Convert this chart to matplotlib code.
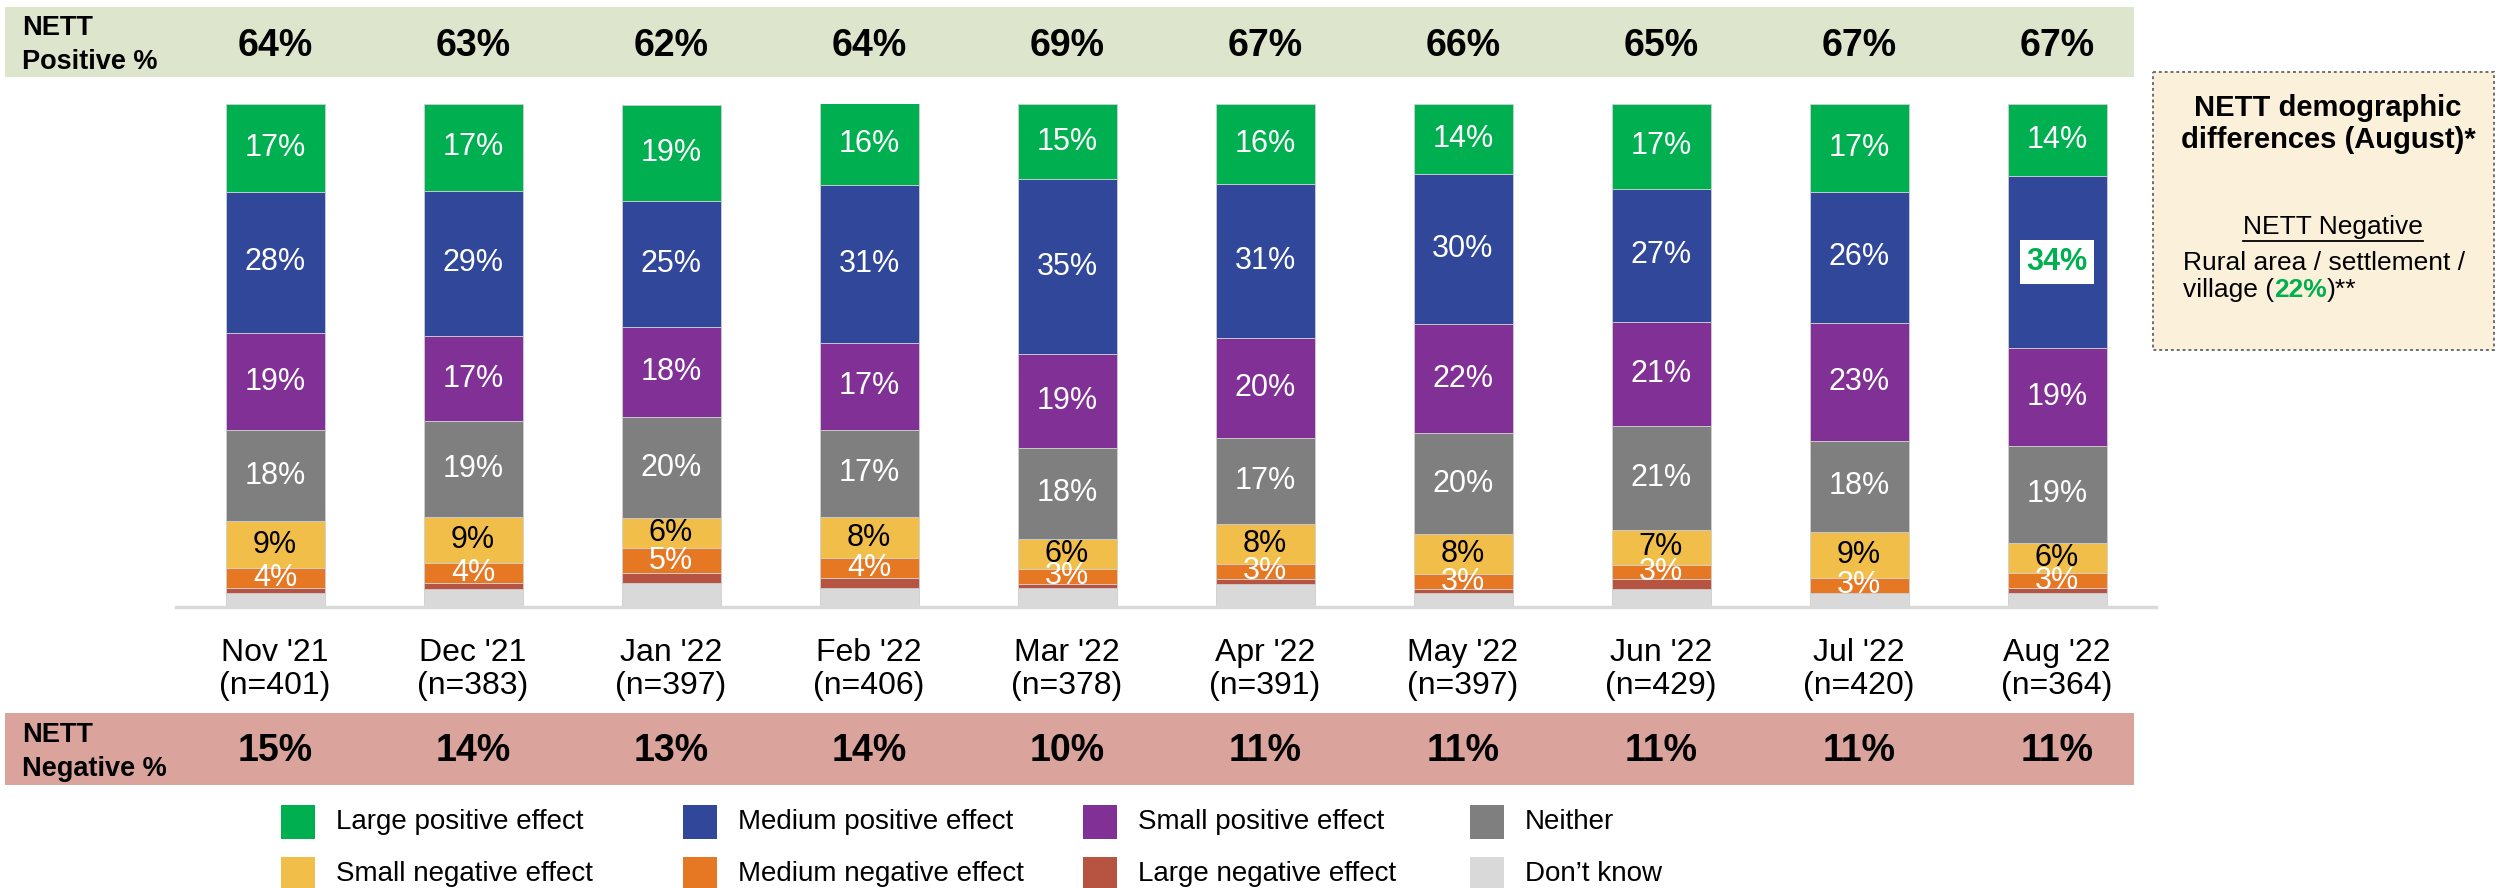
import matplotlib
matplotlib.use('Agg')
import matplotlib.pyplot as plt
import matplotlib.transforms as mtransforms
from matplotlib.patches import Rectangle

plt.rcParams['font.family'] = ['Liberation Sans', 'DejaVu Sans']

# ---------------- data ----------------
months = ["Nov '21", "Dec '21", "Jan '22", "Feb '22", "Mar '22", "Apr '22",
          "May '22", "Jun '22", "Jul '22", "Aug '22"]
sample_n = [401, 383, 397, 406, 378, 391, 397, 429, 420, 364]
categories = ["Large positive effect", "Medium positive effect", "Small positive effect", "Neither",
              "Small negative effect", "Medium negative effect", "Large negative effect", "Don\u2019t know"]

large_pos = [17.4, 17.2, 19.2, 16.3, 15.0, 16.0, 14.0, 16.8, 17.4, 14.3]
medium_pos = [28.2, 29.0, 25.0, 31.3, 34.7, 30.6, 29.8, 26.6, 26.2, 34.3]
small_pos = [19.2, 16.9, 18.0, 17.3, 18.7, 19.9, 21.7, 20.6, 23.3, 19.3]
neither = [18.2, 19.1, 20.0, 17.3, 18.0, 16.9, 19.9, 20.7, 18.2, 19.3]
small_neg = [9.2, 9.1, 6.0, 8.2, 6.0, 8.0, 8.1, 6.9, 9.1, 6.1]
medium_neg = [4.0, 4.0, 5.0, 3.9, 3.0, 3.0, 2.9, 2.9, 3.0, 3.0]
large_neg = [1.1, 1.1, 2.0, 2.0, 0.9, 1.0, 0.9, 1.9, 0.0, 1.0]
dont_know = [2.7, 3.6, 4.7, 3.8, 3.7, 4.6, 2.7, 3.6, 2.8, 2.7]

nett_positive = [64, 63, 62, 64, 69, 67, 66, 65, 67, 67]
nett_negative = [15, 14, 13, 14, 10, 11, 11, 11, 11, 11]

labelled_categories = categories[:6]
highlight_cells = [("Aug '22", "Medium positive effect")]

box_title = "NETT demographic\ndifferences (August)*"
box_subtitle = "NETT Negative"
box_line1 = "Rural area / settlement /"
box_line2 = ("village (", "22%", ")**")

# ---------------- styles ----------------
colors = {
    "Large positive effect": "#00B050",
    "Medium positive effect": "#30479A",
    "Small positive effect": "#813196",
    "Neither": "#7F7F7F",
    "Small negative effect": "#F1BE4A",
    "Medium negative effect": "#E67723",
    "Large negative effect": "#B75441",
    "Don\u2019t know": "#D9D9D9",
}
series = dict(zip(categories, [large_pos, medium_pos, small_pos, neither,
                               small_neg, medium_neg, large_neg, dont_know]))

W, H = 2503, 888
fig = plt.figure(figsize=(W / 100, H / 100), dpi=100)

# overlay axes in pixel coordinates (for bands, legend, side box)
ov = fig.add_axes([0, 0, 1, 1])
ov.set_xlim(0, W)
ov.set_ylim(H, 0)
ov.axis('off')
ov.set_zorder(0)

# main axes
ax_left, ax_right, ax_top, ax_bottom = 176, 2156, 104, 607
ax = fig.add_axes([ax_left / W, (H - ax_bottom) / H, (ax_right - ax_left) / W, (ax_bottom - ax_top) / H])
ax.set_zorder(1)
ax.patch.set_alpha(0)
x = list(range(len(months)))
ax.set_xlim(-0.5, len(months) - 0.5)
ax.set_ylim(0, 100)

bottoms = [0.0] * len(months)
for cat in reversed(categories):
    vals = series[cat]
    ax.bar(x, vals, width=0.5, bottom=bottoms, color=colors[cat],
           edgecolor='#CFCFCF', linewidth=0.6, zorder=2)
    if cat in labelled_categories:
        for i, v in enumerate(vals):
            if v <= 0:
                continue
            yc = bottoms[i] + v / 2
            if (months[i], cat) in highlight_cells:
                ax.text(i, yc, f"{v:.0f}%", ha='center', va='center', fontsize=22,
                        fontweight='bold', color='#00B050', zorder=4,
                        bbox=dict(boxstyle='square,pad=0.22', fc='white', ec='none'))
            else:
                tc = 'black' if cat == "Small negative effect" else 'white'
                ax.text(i, yc, f"{v:.0f}%", ha='center', va='center', fontsize=22,
                        color=tc, zorder=4)
    bottoms = [b + v for b, v in zip(bottoms, vals)]

for s in ['top', 'right', 'left']:
    ax.spines[s].set_visible(False)
ax.spines['bottom'].set_color('#D9D9D9')
ax.spines['bottom'].set_linewidth(2.5)
ax.set_yticks([])
ax.set_xticks(x)
ax.set_xticklabels([f"{m}\n(n={n})" for m, n in zip(months, sample_n)],
                   fontsize=23, linespacing=1.15)
ax.tick_params(axis='x', length=0, pad=22)

# ---------------- bands ----------------
trans = mtransforms.blended_transform_factory(ax.transData, ov.transData)
ov.add_patch(Rectangle((5, 7), 2129, 70, fc='#DDE5CC', ec='none'))
ov.add_patch(Rectangle((5, 713), 2129, 72, fc='#DAA39B', ec='none'))
ov.text(22, 28, "NETT", fontsize=19.5, fontweight='bold', va='center', ha='left')
ov.text(22, 62, "Positive %", fontsize=19.5, fontweight='bold', va='center', ha='left')
ov.text(22, 735, "NETT", fontsize=19.5, fontweight='bold', va='center', ha='left')
ov.text(22, 769, "Negative %", fontsize=19.5, fontweight='bold', va='center', ha='left')
for i in x:
    ov.text(i, 46, f"{nett_positive[i]}%", transform=trans, ha='center', va='center',
            fontsize=27, fontweight='bold')
    ov.text(i, 751, f"{nett_negative[i]}%", transform=trans, ha='center', va='center',
            fontsize=27, fontweight='bold')

# ---------------- legend ----------------
col_x = [281, 683, 1083, 1470]
row_y = [805, 857]
for k, cat in enumerate(categories):
    r, c = divmod(k, 4)
    ov.add_patch(Rectangle((col_x[c], row_y[r]), 34, 34, fc=colors[cat], ec='none'))
    ov.text(col_x[c] + 55, row_y[r] + 17, cat, fontsize=20, va='center', ha='left')

# ---------------- side box ----------------
ov.add_patch(Rectangle((2153, 72), 341, 278, fc='#FBF0DA', ec='#6E6E6E',
                       lw=1.4, ls=(0, (1.5, 1.5))))
ov.text(2328, 124, box_title, ha='center', va='center', fontsize=21,
        fontweight='bold', linespacing=1.15)
fig.canvas.draw()
rend = fig.canvas.get_renderer()
t_sub = ov.text(2333, 227, box_subtitle, ha='center', va='center', fontsize=19)
bb = t_sub.get_window_extent(rend)
ov.plot([bb.x0, bb.x1], [241, 241], color='black', lw=1.3)
ov.text(2183, 263, box_line1, ha='left', va='center', fontsize=19)
t1 = ov.text(2183, 290, box_line2[0], ha='left', va='center', fontsize=19)
b1 = t1.get_window_extent(rend)
t2 = ov.text(b1.x1, 290, box_line2[1], ha='left', va='center', fontsize=19,
             fontweight='bold', color='#00B050')
b2 = t2.get_window_extent(rend)
ov.text(b2.x1, 290, box_line2[2], ha='left', va='center', fontsize=19)

fig.savefig('out.png', dpi=100)
